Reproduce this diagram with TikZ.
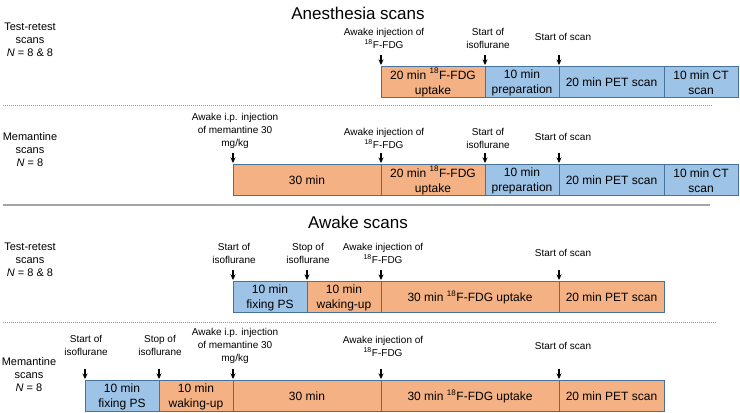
\documentclass[tikz,border=0pt]{standalone}
\usepackage{fontspec}
\setmainfont{Liberation Sans}
\usetikzlibrary{positioning,arrows.meta}

\begin{document}
\begin{tikzpicture}[x=0.75pt,y=0.75pt,yscale=-1,xscale=1,
    phase/.style={draw={rgb, 255:red, 71; green, 114; blue, 156 }, line width=0.75, outer sep=0pt, inner sep=0pt, minimum height=23.25pt, align=center, font=\fontsize{9}{11.25}\selectfont},
    drug/.style={phase, fill={rgb, 255:red, 244; green, 177; blue, 131 }},
    scan/.style={phase, fill={rgb, 255:red, 157; green, 195; blue, 230 }},
    cue/.style={-{Stealth[length=4.2pt,width=3.8pt]}, line width=0.9, shorten >=1.5pt},
    event/.style={align=center, font=\fontsize{7.5}{9.75}\selectfont},
    group/.style={align=center, font=\fontsize{8.25}{9.75}\selectfont},
    heading/.style={font=\fontsize{12.75}{15}\selectfont},
    sepdot/.style={color={rgb, 255:red, 150; green, 150; blue, 150 }, line width=0.5, dash pattern=on 0.75pt off 0.75pt},
    sepline/.style={color={rgb, 255:red, 165; green, 165; blue, 165 }, line width=1}
  ]
\useasboundingbox (0,0) rectangle (740,413);

%Titles
\node[heading] (ttlA) at (358,13) {Anesthesia scans};
\node[heading] (ttlB) at (358,222) {Awake scans};

%Separators
\draw[sepdot] (3,105) -- (712,105);
\draw[sepline] (3,205) -- (710,205);
\draw[sepdot] (3,322) -- (716,322);

%Group labels
\node[group] (grp1) at (30,40) {Test-retest\\scans\\\textit{N} = 8 \& 8};
\node[group] (grp2) at (30,150) {Memantine\\scans\\\textit{N} = 8};
\node[group] (grp3) at (30,260) {Test-retest\\scans\\\textit{N} = 8 \& 8};
\node[group] (grp4) at (29,375) {Memantine\\scans\\\textit{N} = 8};

%Row 1: anesthesia, test-retest
\node[drug, minimum width=78pt, anchor=north west] (up1) at (381,67) {20 min \textsuperscript{18}F-FDG\\uptake};
\node[scan, minimum width=55.5pt, right=0pt of up1] (pr1) {10 min\\preparation};
\node[scan, minimum width=78.75pt, right=0pt of pr1] (pet1) {20 min PET scan};
\node[scan, minimum width=55.5pt, right=0pt of pet1] (ct1) {10 min CT\\scan};
\node[event] (ev11) at (384,38) {Awake injection of\\\textsuperscript{18}F-FDG};
\node[event] (ev12) at (488,38) {Start of\\isoflurane};
\node[event] (ev13) at (563,37) {Start of scan};
\coordinate (c11) at ([yshift=-9pt]up1.north west);
\coordinate (c12) at ([yshift=-9pt]pr1.north west);
\coordinate (c13) at ([yshift=-9pt]pet1.north west);
\draw[cue] (c11) -- (up1.north west);
\draw[cue] (c12) -- (pr1.north west);
\draw[cue] (c13) -- (pet1.north west);

%Row 2: anesthesia, memantine
\node[drug, minimum width=111pt, anchor=north west] (wt2) at (233,165) {30 min};
\node[drug, minimum width=78pt, right=0pt of wt2] (up2) {20 min \textsuperscript{18}F-FDG\\uptake};
\node[scan, minimum width=55.5pt, right=0pt of up2] (pr2) {10 min\\preparation};
\node[scan, minimum width=78.75pt, right=0pt of pr2] (pet2) {20 min PET scan};
\node[scan, minimum width=55.5pt, right=0pt of pet2] (ct2) {10 min CT\\scan};
\node[event] (ev21) at (235,131) {Awake i.p. injection\\of memantine 30\\mg/kg};
\node[event] (ev22) at (384,138) {Awake injection of\\\textsuperscript{18}F-FDG};
\node[event] (ev23) at (488,138) {Start of\\isoflurane};
\node[event] (ev24) at (563,137) {Start of scan};
\coordinate (c21) at ([yshift=-9pt]wt2.north west);
\coordinate (c22) at ([yshift=-9pt]up2.north west);
\coordinate (c23) at ([yshift=-9pt]pr2.north west);
\coordinate (c24) at ([yshift=-9pt]pet2.north west);
\draw[cue] (c21) -- (wt2.north west);
\draw[cue] (c22) -- (up2.north west);
\draw[cue] (c23) -- (pr2.north west);
\draw[cue] (c24) -- (pet2.north west);

%Row 3: awake, test-retest
\node[scan, minimum width=55.5pt, anchor=north west] (fx3) at (233,282) {10 min\\fixing PS};
\node[drug, minimum width=55.5pt, right=0pt of fx3] (wk3) {10 min\\waking-up};
\node[drug, minimum width=133.5pt, right=0pt of wk3] (up3) {30 min \textsuperscript{18}F-FDG uptake};
\node[drug, minimum width=78.75pt, right=0pt of up3] (pet3) {20 min PET scan};
\node[event] (ev31) at (234,253) {Start of\\isoflurane};
\node[event] (ev32) at (308,253) {Stop of\\isoflurane};
\node[event] (ev33) at (383,253) {Awake injection of\\\textsuperscript{18}F-FDG};
\node[event] (ev34) at (563,253) {Start of scan};
\coordinate (c31) at ([yshift=-9pt]fx3.north west);
\coordinate (c32) at ([yshift=-9pt]wk3.north west);
\coordinate (c33) at ([yshift=-9pt]up3.north west);
\coordinate (c34) at ([yshift=-9pt]pet3.north west);
\draw[cue] (c31) -- (fx3.north west);
\draw[cue] (c32) -- (wk3.north west);
\draw[cue] (c33) -- (up3.north west);
\draw[cue] (c34) -- (pet3.north west);

%Row 4: awake, memantine
\node[scan, minimum width=55.5pt, anchor=north west] (fx4) at (85,381) {10 min\\fixing PS};
\node[drug, minimum width=55.5pt, right=0pt of fx4] (wk4) {10 min\\waking-up};
\node[drug, minimum width=111pt, right=0pt of wk4] (wt4) {30 min};
\node[drug, minimum width=133.5pt, right=0pt of wt4] (up4) {30 min \textsuperscript{18}F-FDG uptake};
\node[drug, minimum width=78.75pt, right=0pt of up4] (pet4) {20 min PET scan};
\node[event] (ev41) at (86,345) {Start of\\isoflurane};
\node[event] (ev42) at (160,345) {Stop of\\isoflurane};
\node[event] (ev43) at (235,346) {Awake i.p. injection\\of memantine 30\\mg/kg};
\node[event] (ev44) at (383,346) {Awake injection of\\\textsuperscript{18}F-FDG};
\node[event] (ev45) at (563,346) {Start of scan};
\coordinate (c41) at ([yshift=-9pt]fx4.north west);
\coordinate (c42) at ([yshift=-9pt]wk4.north west);
\coordinate (c43) at ([yshift=-9pt]wt4.north west);
\coordinate (c44) at ([yshift=-9pt]up4.north west);
\coordinate (c45) at ([yshift=-9pt]pet4.north west);
\draw[cue] (c41) -- (fx4.north west);
\draw[cue] (c42) -- (wk4.north west);
\draw[cue] (c43) -- (wt4.north west);
\draw[cue] (c44) -- (up4.north west);
\draw[cue] (c45) -- (pet4.north west);

\end{tikzpicture}
\end{document}
